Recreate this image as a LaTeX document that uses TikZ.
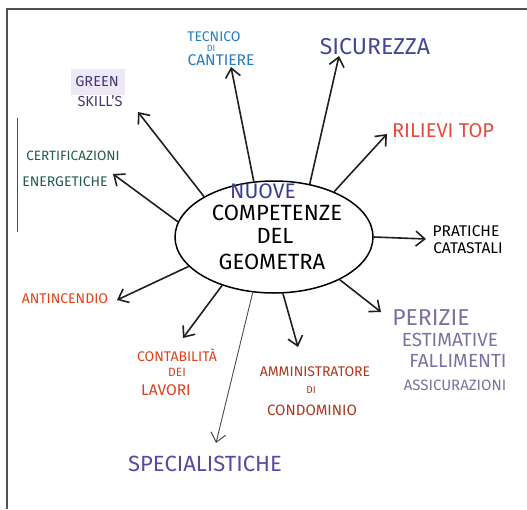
\documentclass[tikz,border=0pt]{standalone}
\usepackage{fontspec}
\setsansfont{Fira Sans}
\usetikzlibrary{arrows.meta,shapes.geometric}
\definecolor{tecblue}{RGB}{35,125,195}
\definecolor{greenskill}{RGB}{70,55,115}
\definecolor{lavender}{RGB}{236,232,245}
\definecolor{certteal}{RGB}{35,90,80}
\definecolor{sicurblue}{RGB}{70,70,150}
\definecolor{rilred}{RGB}{232,75,62}
\definecolor{perizgray}{RGB}{120,115,160}
\definecolor{ammbrown}{RGB}{175,55,30}
\definecolor{specpurple}{RGB}{85,75,165}
\definecolor{contred}{RGB}{222,65,25}
\definecolor{nuoveblue}{RGB}{60,60,150}
\definecolor{framegray}{RGB}{80,80,80}
\begin{document}
\begin{tikzpicture}[x=1pt,y=-1pt,
  lbl/.style={font=\sffamily, align=center, inner sep=0pt},
  fs/.style={font=\sffamily\fontsize{#1}{#1}\selectfont},
  arr/.style={-{Straight Barb[length=9pt,width=15pt,line width=1.6pt]}, line width=1.6pt, black!88},
  thinarr/.style={-{Straight Barb[length=9pt,width=15pt,line width=1pt]}, line width=0.9pt, black!70}
]
\useasboundingbox (0,0) rectangle (527,509);
% frame
\draw[framegray, line width=1.5pt] (527,9) -- (7,9) -- (7,509);
\draw[black!70, line width=0.6pt] (17,118) -- (17,232);
% centre
\node[ellipse, draw, line width=1.5pt, minimum width=198pt, minimum height=112pt, inner sep=0pt] (c) at (274,237) {};
\node[lbl, fs=21, text=nuoveblue] (nuove) at (263,191) {NUOVE};
\node[lbl, fs=22] (comp) at (277,213) {COMPETENZE};
\node[lbl, fs=22] (del) at (275,236) {DEL};
\node[lbl, fs=22] (geo) at (272,262) {GEOMETRA};
% tecnico di cantiere
\node[lbl, fs=14, text=tecblue] (tec1) at (214,37) {TECNICO};
\node[lbl, fs=9, text=tecblue] (tec2) at (211,48) {DI};
\node[lbl, fs=15.5, text=tecblue] (tec3) at (221,60) {CANTIERE};
% green skill's
\fill[lavender] (71,69) rectangle (125,95);
\node[lbl, fs=14.5, text=greenskill] (green1) at (97,82) {GREEN};
\node[lbl, fs=14.5, text=greenskill] (green2) at (100,101) {SKILL'S};
% certificazioni
\node[lbl, fs=13.5, text=certteal] (cert1) at (73,156) {CERTIFICAZIONI};
\node[lbl, fs=14, text=certteal] (cert2) at (65,182) {ENERGETICHE};
% right side
\node[lbl, fs=23, text=sicurblue] (sic) at (375,47) {SICUREZZA};
\node[lbl, fs=20, text=rilred] (ril) at (443,131) {RILIEVI TOP};
\node[lbl, fs=15.5] (prat1) at (466,231) {PRATICHE};
\node[lbl, fs=15.5] (prat2) at (468,248) {CATASTALI};
% perizie
\node[lbl, fs=23, text=perizgray] (per1) at (431,318) {PERIZIE};
\node[lbl, fs=19, text=perizgray] (per2) at (450,340) {ESTIMATIVE};
\node[lbl, fs=19, text=perizgray] (per3) at (458,361) {FALLIMENTI};
\node[lbl, fs=15, text=perizgray] (per4) at (455,385) {ASSICURAZIONI};
% amministratore
\node[lbl, fs=14, text=ammbrown] (amm1) at (315,372) {AMMINISTRATORE};
\node[lbl, fs=10, text=ammbrown] (amm2) at (311,390) {DI};
\node[lbl, fs=15, text=ammbrown] (amm3) at (312,410) {CONDOMINIO};
% contabilita
\node[lbl, fs=14, text=contred] (cont1) at (177,355) {CONTABILITÀ};
\node[lbl, fs=12, text=contred] (cont2) at (177,372) {DEI};
\node[lbl, fs=15.5, text=contred] (cont3) at (166,390) {LAVORI};
\node[lbl, fs=14, text=contred] (anti) at (65,299) {ANTINCENDIO};
\node[lbl, fs=22, text=specpurple] (spec) at (205,464) {SPECIALISTICHE};
% arrow tips
\coordinate (tTec) at (231,67);
\coordinate (tSic) at (339,56);
\coordinate (tRil) at (387,134);
\coordinate (tPrat) at (426,239);
\coordinate (tPer) at (381,312);
\coordinate (tAmm) at (298,347);
\coordinate (tSpec) at (216,443);
\coordinate (tCont) at (183,338);
\coordinate (tAnti) at (117,300);
\coordinate (tCert) at (113,174);
\coordinate (tGreen) at (138,112);
% arrows
\draw[arr] (c.110) -- (tTec);
\draw[arr] (c.56) -- (tSic);
\draw[arr] (c.37) -- (tRil);
\draw[arr] (c.0) -- (tPrat);
\draw[arr] (c.-33) -- (tPer);
\draw[arr] (c.-81) -- (tAmm);
\draw[thinarr] (c.-111) -- (tSpec);
\draw[arr] (c.-137) -- (tCont);
\draw[arr] (c.-161) -- (tAnti);
\draw[arr] (c.171) -- (tCert);
\draw[arr] (c.150) -- (tGreen);
\end{tikzpicture}
\end{document}
